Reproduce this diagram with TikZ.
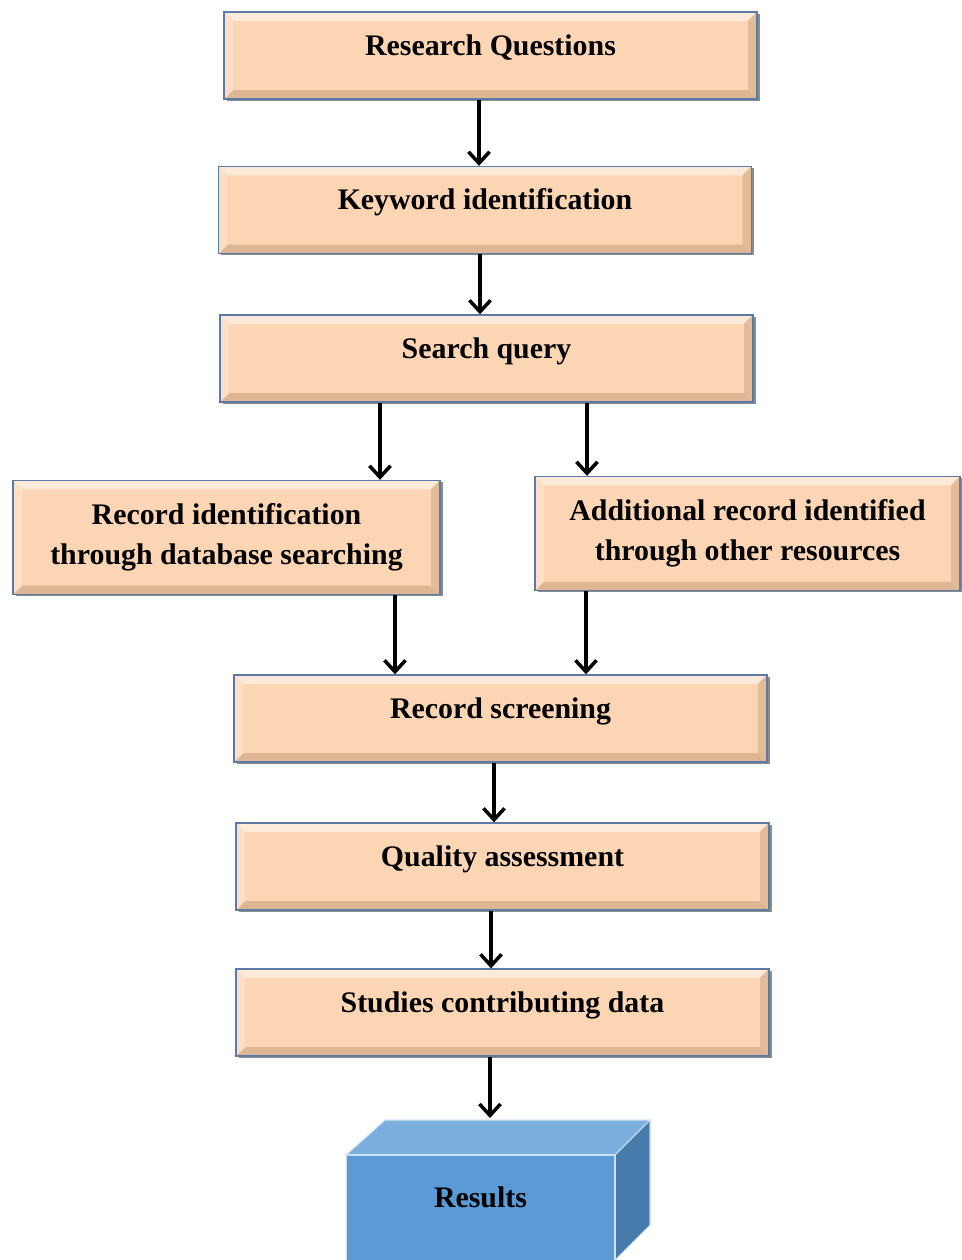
\documentclass[tikz,border=0pt]{standalone}
\usepackage{fontspec}
\setmainfont{Liberation Serif}
\usetikzlibrary{positioning,calc,arrows.meta,shadows}

\definecolor{peach}{RGB}{252,213,181}
\definecolor{peachhi}{RGB}{254,234,216}
\definecolor{peachlo}{RGB}{222,182,148}
\definecolor{boxedge}{RGB}{92,122,166}
\definecolor{cubefront}{RGB}{91,155,213}
\definecolor{cubetop}{RGB}{124,175,222}
\definecolor{cubeside}{RGB}{70,124,172}

\begin{document}
\begin{tikzpicture}[x=0.02cm, y=-0.02cm, every node/.style={font=\fontsize{17}{23}\selectfont\bfseries}]
    \tikzset{block/.style={rectangle, draw=boxedge, line width=0.8pt, fill=peach, text centered, align=center,
        minimum width=10.66cm, minimum height=1.74cm,
        drop shadow={shadow xshift=1.5pt, shadow yshift=-1pt, fill=black!75, opacity=0.6},
        path picture={
            \fill[peachhi] (path picture bounding box.north west) -- (path picture bounding box.north east)
                -- ([shift={(-5pt,-5pt)}]path picture bounding box.north east) -- ([shift={(5pt,-5pt)}]path picture bounding box.north west) -- cycle;
            \fill[peachlo] (path picture bounding box.south west) -- (path picture bounding box.south east)
                -- ([shift={(-5pt,5pt)}]path picture bounding box.south east) -- ([shift={(5pt,5pt)}]path picture bounding box.south west) -- cycle;
            \fill[peachlo!85!peach] (path picture bounding box.north east) -- (path picture bounding box.south east)
                -- ([shift={(-5pt,5pt)}]path picture bounding box.south east) -- ([shift={(-5pt,-5pt)}]path picture bounding box.north east) -- cycle;
            \fill[peachhi!50!peach] (path picture bounding box.north west) -- (path picture bounding box.south west)
                -- ([shift={(5pt,5pt)}]path picture bounding box.south west) -- ([shift={(5pt,-5pt)}]path picture bounding box.north west) -- cycle;
        }}}
    \tikzset{oneline/.style={text height=0.45cm, text depth=0.45cm}}
    \tikzset{twoline/.style={minimum width=8.54cm, minimum height=2.28cm}}
    \tikzset{line/.style={draw, -{Straight Barb[length=6.5pt, width=12pt]}, line width=2pt}}

    \useasboundingbox (0,0) rectangle (962,1260);

    % Top of the flow
    \node [block, oneline] (rq) at (490.5,55.5) {Research Questions};
    \node [block, oneline] (kw) at (485,210) {Keyword identification};
    \node [block, oneline] (sq) at (486.5,358.5) {Search query};

    % Two sources
    \node [block, twoline] (db) at (226.5,537.5) {Record identification\\through database searching};
    \node [block, twoline, minimum width=8.5cm] (other) at (747.5,533.5) {Additional record identified\\through other resources};

    % Bottom of the flow
    \node [block, oneline] (scr) at (500.5,718.5) {Record screening};
    \node [block, oneline] (qa) at (502.5,866.5) {Quality assessment};
    \node [block, oneline] (study) at (502.5,1012.5) {Studies contributing data};

    % Results box
    \fill [cubetop, draw=white!70!cubetop, line width=0.6pt] (346,1155) -- (385,1120) -- (650,1120) -- (615,1155) -- cycle;
    \fill [cubeside, draw=white!70!cubeside, line width=0.6pt] (615,1155) -- (650,1120) -- (650,1225) -- (615,1260) -- cycle;
    \node [rectangle, fill=cubefront, draw=white!70!cubefront, line width=0.6pt, minimum width=5.38cm, minimum height=2.4cm,
        text height=0.45cm, text depth=0.77cm] (res) at (480.5,1215) {Results};

    \path [line] (rq.south -| 479,0) -- (kw.north -| 479,0);
    \path [line] (kw.south -| 480,0) -- (sq.north -| 480,0);
    \path [line] (sq.south -| 380,0) -- (db.north -| 380,0);
    \path [line] (sq.south -| 587,0) -- (other.north -| 587,0);
    \path [line] (db.south -| 395,0) -- (scr.north -| 395,0);
    \path [line] (other.south -| 586,0) -- (scr.north -| 586,0);
    \path [line] (scr.south -| 494,0) -- (qa.north -| 494,0);
    \path [line] (qa.south -| 491,0) -- (study.north -| 491,0);
    \path [line] (study.south -| 490,0) -- (490,1118);
\end{tikzpicture}
\end{document}
